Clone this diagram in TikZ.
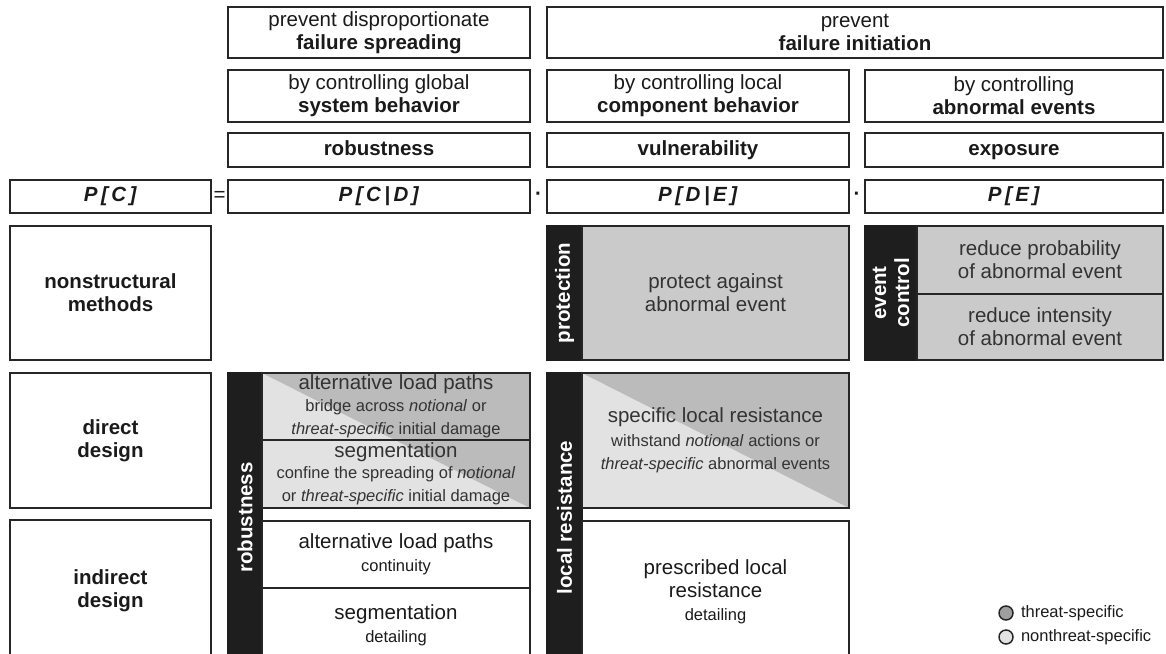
\documentclass[tikz,border=0pt]{standalone}
\usepackage{fontspec}
\setmainfont{Liberation Sans}
\usetikzlibrary{calc,backgrounds}
\definecolor{frame}{HTML}{262626}
\definecolor{txt}{HTML}{1A1A1A}
\definecolor{darkbar}{HTML}{1E1E1E}
\definecolor{protgray}{HTML}{CACACA}
\definecolor{lightg}{HTML}{E2E2E2}
\definecolor{darkg}{HTML}{BBBBBB}
\newcommand\fntL{\fontsize{20.5}{23}\selectfont}
\newcommand\fntS{\fontsize{16.5}{18.5}\selectfont}
\newcommand\fntLeg{\fontsize{16.5}{18}\selectfont}
\newcommand\gp{\hspace{3.5pt}}
% rectangular node from corners (x1,y1)-(x2,y2)
\newcommand\rbox[7]{\node[#6, minimum width={(#4)-(#2)}, minimum height={(#5)-(#3)}] (#1) at ({((#2)+(#4))/2},{((#3)+(#5))/2}) {#7};}
% vertical bar node (rotated text)
\newcommand\vbar[7]{\node[#6, minimum width={(#5)-(#3)}, minimum height={(#4)-(#2)}] (#1) at ({((#2)+(#4))/2},{((#3)+(#5))/2}) {#7};}
\begin{document}
\begin{tikzpicture}[x=1pt,y=-1pt,
  every node/.style={inner sep=0pt, outer sep=0pt},
  box/.style={draw=frame, line width=1.6pt, align=center, text=txt, font=\fntL},
  onebox/.style={box, text height=15pt, text depth=4.5pt},
  gbox/.style={box, fill=protgray, text=black!80},
  sbox/.style={box, text=black!80},
  bar/.style={fill=darkbar, draw=darkbar, line width=1.6pt, text=white, align=center, rotate=90, font=\fntL\bfseries},
  op/.style={font=\fntL, text=txt},
  legdot/.style={circle, draw=black!85, line width=1.5pt, minimum size=14pt},
  legtxt/.style={anchor=west, font=\fntLeg, text=txt}
]
\useasboundingbox (0,0) rectangle (1166,653);

% header rows
\rbox{spread}{228}{7}{530}{58}{box}{prevent disproportionate\\\textbf{failure spreading}}
\rbox{init}{547}{7}{1163}{58}{box}{prevent\\\textbf{failure initiation}}
\rbox{glob}{228}{70}{530}{122}{box}{by controlling global\\\textbf{system behavior}}
\rbox{loc}{547}{70}{849}{122}{box}{by controlling local\\\textbf{component behavior}}
\rbox{abn}{865}{70}{1163}{122}{box}{by controlling\\\textbf{abnormal events}}
\rbox{rob}{228}{133}{530}{167}{onebox}{\textbf{robustness}}
\rbox{vul}{547}{133}{849}{167}{onebox}{\textbf{vulnerability}}
\rbox{expo}{865}{133}{1163}{167}{onebox}{\textbf{exposure}}

% probability row
\rbox{pc}{10}{180}{211}{213}{onebox}{\textbf{\textit{P\gp[\gp C\gp]}}}
\rbox{pcd}{228}{180}{530}{213}{onebox}{\textbf{\textit{P\gp[\gp C\gp|\gp D\gp]}}}
\rbox{pde}{547}{180}{849}{213}{onebox}{\textbf{\textit{P\gp[\gp D\gp|\gp E\gp]}}}
\rbox{pe}{865}{180}{1163}{213}{onebox}{\textbf{\textit{P\gp[\gp E\gp]}}}
\node[op] (eq) at ($(pc.east)!0.5!(pcd.west)$) {=};
\node[op] (dot1) at ($(pcd.east)!0.5!(pde.west)$) {\textbf{·}};
\node[op] (dot2) at ($(pde.east)!0.5!(pe.west)$) {\textbf{·}};

% left labels
\rbox{nonstr}{10}{226}{211}{360}{box}{\textbf{nonstructural}\\\textbf{methods}}
\rbox{direct}{10}{373}{211}{508}{box}{\textbf{direct}\\\textbf{design}}
\rbox{indirect}{10}{520}{211}{662}{box}{\textbf{indirect}\\\textbf{design}}

% nonstructural methods
\vbar{protbar}{547}{226}{582}{360}{bar}{protection}
\rbox{prot}{582}{226}{849}{360}{gbox}{protect against\\abnormal event}
\vbar{evbar}{865}{226}{917}{360}{bar}{event\\control}
\rbox{redprob}{917}{226}{1163}{294}{gbox}{reduce probability\\of abnormal event}
\rbox{redint}{917}{294}{1163}{360}{gbox}{reduce intensity\\of abnormal event}

% robustness column
\vbar{robbar}{228}{373}{262}{662}{bar}{robustness}
\rbox{alp1}{262}{373}{530}{440}{sbox}{alternative load paths\\[-1.5pt]\fntS bridge across \textit{notional} or\\\fntS\textit{threat-specific} initial damage}
\rbox{seg1}{262}{440}{530}{508}{sbox}{segmentation\\[-1.5pt]\fntS confine the spreading of \textit{notional}\\\fntS or \textit{threat-specific} initial damage}
\rbox{alp2}{262}{521}{530}{588}{box}{alternative load paths\\\fntS continuity}
\rbox{seg2}{262}{588}{530}{662}{box}{segmentation\\\fntS detailing}

% local resistance column
\vbar{lrbar}{547}{373}{582}{662}{bar}{local resistance}
\rbox{slr}{582}{373}{849}{508}{sbox}{specific local resistance\\[1pt]\fntS withstand \textit{notional} actions or\\\fntS\textit{threat-specific} abnormal events}
\rbox{plr}{582}{521}{849}{662}{box}{prescribed local\\resistance\\\fntS detailing}

% diagonal shading (threat-specific / nonthreat-specific)
\begin{scope}[on background layer]
  \fill[lightg] (alp1.north west) rectangle (seg1.south east);
  \fill[darkg] (alp1.north west) -- (alp1.north east) -- (seg1.south east) -- cycle;
  \fill[lightg] (slr.north west) rectangle (slr.south east);
  \fill[darkg] (slr.north west) -- (slr.north east) -- (slr.south east) -- cycle;
\end{scope}

% legend
\node[legdot, fill=darkg!85!black] (lg1) at (1006,613) {};
\node[legtxt] (lt1) at ([xshift=8pt]lg1.east) {threat-specific};
\node[legdot, fill=lightg] (lg2) at (1006,637) {};
\node[legtxt] (lt2) at ([xshift=8pt]lg2.east) {nonthreat-specific};
\end{tikzpicture}
\end{document}
